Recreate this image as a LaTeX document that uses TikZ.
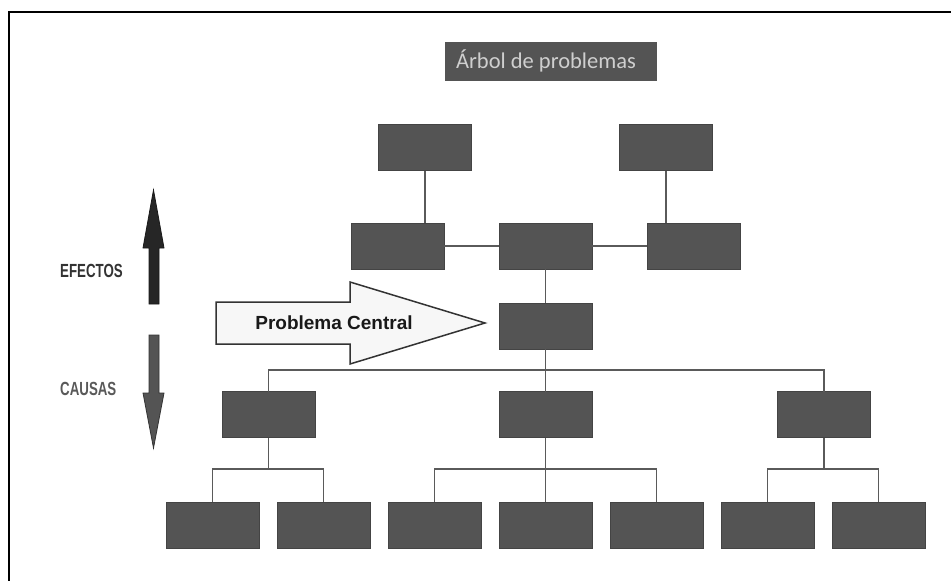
\documentclass[tikz,border=0pt]{standalone}
\usepackage{fontspec}
\setmainfont{Liberation Sans}
\newfontfamily\titlefont{Carlito}
\usepackage{tikz}
\usetikzlibrary{positioning}
\definecolor{cajagris}{HTML}{545454}
\definecolor{bordegris}{HTML}{444444}
\definecolor{lineagris}{HTML}{5A5A5A}
\definecolor{titulogris}{HTML}{CFCFCF}

\begin{document}
\begin{tikzpicture}[x=1pt,y=-1pt,
  caja/.style={draw=bordegris,fill=cajagris,line width=0.8pt,
    minimum width=93pt,minimum height=46pt,inner sep=0pt,outer sep=0pt},
  enlace/.style={draw=lineagris,line width=1.4pt}]
  \useasboundingbox (0,0) rectangle (951,581);
  % --- Frame (only top and left edges are visible) ---
  \draw[black,line width=2.6pt] (9,581) -- (9,12) -- (951,12);
  % --- Title ---
  \node[fill=cajagris,minimum width=212pt,minimum height=39pt,inner sep=0pt]
    (titulo) at (551,61.5) {};
  \node[text=titulogris,font=\titlefont\fontsize{22.5}{24}\selectfont]
    (tit) at (546,61) {Árbol de problemas};
  % --- Effects ---
  \node[caja] (e11) at (425,147.5) {};
  \node[caja] (e12) at (666,147.5) {};
  \node[caja] (e21) at (397.5,246) {};
  \node[caja] (e22) at (545.5,246) {};
  \node[caja] (e23) at (693.5,246) {};
  % --- Central problem ---
  \node[caja] (pc) at (545.5,326) {};
  % --- Causes ---
  \node[caja] (c1) at (268.5,414.5) {};
  \node[caja] (c2) at (545.5,414.5) {};
  \node[caja] (c3) at (824,414.5) {};
  \foreach \i/\x in {1/212.5,2/323.5,3/434.5,4/545.5,5/656.5,6/767.5,7/878.5}
    \node[caja] (b\i) at (\x,525) {};
  % --- Connectors ---
  \coordinate (bus) at (545.5,370);
  \path (b1.north) ++(0,-33) coordinate (k1);
  \draw[enlace] (e11) -- (e11 |- e21.north);
  \draw[enlace] (e12) -- (e12 |- e23.north);
  \draw[enlace] (e21) -- (e22);
  \draw[enlace] (e22) -- (e23);
  \draw[enlace] (e22) -- (pc);
  \draw[enlace] (pc) -- (c2);
  \draw[enlace] (c1.north) -- (c1.north |- bus) -- (c3.north |- bus) -- (c3.north);
  \draw[enlace] (c1) -- (c1 |- k1);
  \draw[enlace] (b1.north) -- (k1) -- (b2.north |- k1) -- (b2.north);
  \draw[enlace] (c2) -- (b4);
  \draw[enlace] (b3.north) -- (b3.north |- k1) -- (b5.north |- k1) -- (b5.north);
  \draw[enlace] (c3) -- (c3 |- k1);
  \draw[enlace] (b6.north) -- (b6.north |- k1) -- (b7.north |- k1) -- (b7.north);
  % --- Side arrows ---
  \draw[draw=black!90,fill=black!85,line width=0.8pt]
    (149,304) -- (149,248) -- (143,248) -- (153.5,190) -- (164,248)
    -- (159,248) -- (159,304) -- cycle;
  \draw[draw=black!80,fill=cajagris,line width=0.8pt]
    (149,335) -- (149,393) -- (143,393) -- (153.5,448) -- (164,393)
    -- (159,393) -- (159,335) -- cycle;
  \node[anchor=west,font=\bfseries\fontsize{19}{21}\selectfont,text=black!80,inner sep=0pt]
    (efectos) at (60,271) {\scalebox{0.7}[1]{EFECTOS}};
  \node[anchor=west,font=\bfseries\fontsize{19}{21}\selectfont,text=black!65,inner sep=0pt]
    (causas) at (60,389) {\scalebox{0.7}[1]{CAUSAS}};
  % --- Problema Central arrow ---
  \draw[draw=black!80,fill=black!3,line width=1.5pt]
    (216,302) -- (350,302) -- (350,282) -- (485,323) -- (350,364)
    -- (350,344) -- (216,344) -- cycle;
  \node[font=\bfseries\fontsize{19}{21}\selectfont,text=black!90]
    (central) at (334,323) {Problema Central};
\end{tikzpicture}
\end{document}
